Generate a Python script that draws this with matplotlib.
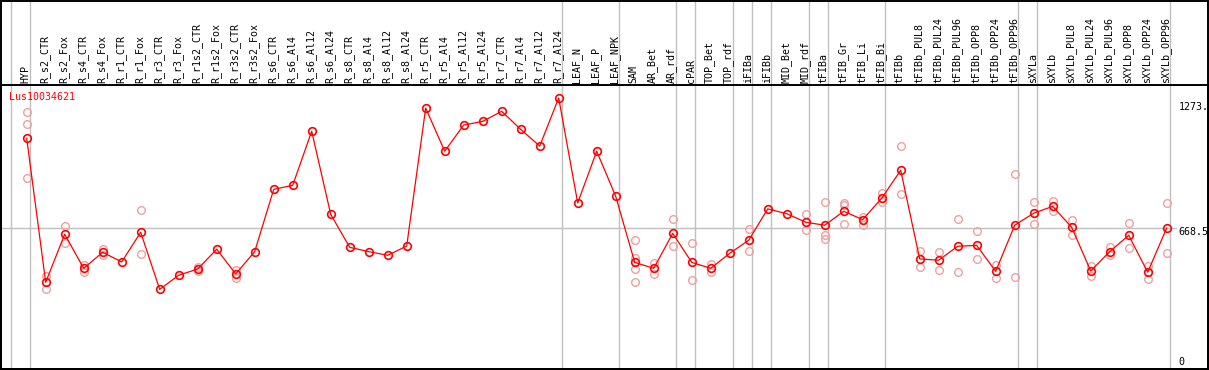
import matplotlib
matplotlib.use("Agg")
import matplotlib.pyplot as plt
from matplotlib import transforms
from matplotlib.patches import Rectangle

labels = ["HYP", "R_s2_CTR", "R_s2_Fox", "R_s4_CTR", "R_s4_Fox", "R_r1_CTR", "R_r1_Fox",
          "R_r3_CTR", "R_r3_Fox", "R_r1s2_CTR", "R_r1s2_Fox", "R_r3s2_CTR", "R_r3s2_Fox",
          "R_s6_CTR", "R_s6_Al4", "R_s6_Al12", "R_s6_Al24", "R_s8_CTR", "R_s8_Al4",
          "R_s8_Al12", "R_s8_Al24", "R_r5_CTR", "R_r5_Al4", "R_r5_Al12", "R_r5_Al24",
          "R_r7_CTR", "R_r7_Al4", "R_r7_Al12", "R_r7_Al24", "LEAF_N", "LEAF_P", "LEAF_NPK",
          "SAM", "AR_Bet", "AR_rdf", "cPAR", "TOP_Bet", "TOP_rdf", "iFIBa", "iFIBb",
          "MID_Bet", "MID_rdf", "tFIBa", "tFIB_Gr", "tFIB_Li", "tFIB_Bi", "tFIBb",
          "tFIBb_PUL8", "tFIBb_PUL24", "tFIBb_PUL96", "tFIBb_OPP8", "tFIBb_OPP24",
          "tFIBb_OPP96", "sXYLa", "sXYLb", "sXYLb_PUL8", "sXYLb_PUL24", "sXYLb_PUL96",
          "sXYLb_OPP8", "sXYLb_OPP24", "sXYLb_OPP96"]

means = [1085, 414, 638, 479, 554, 509, 647, 381, 447, 476, 568, 453, 557,
         847, 866, 1118, 731, 577, 557, 540, 583, 1226, 1025, 1147, 1164,
         1211, 1127, 1049, 1273, 784, 1025, 815, 507, 479, 642, 507, 479, 549,
         610, 756, 734, 694, 680, 745, 706, 806, 936, 523, 517, 582, 586, 465,
         680, 736, 768, 670, 467, 557, 633, 461, 667]

replicates = [[1209, 1150, 902], [443, 384], [676, 597], [496, 462], [569, 540], [],
              [750, 545], [], [], [487, 467], [], [473, 435], [],
              [], [], [], [], [], [], [], [], [], [], [], [], [], [], [], [], [], [], [],
              [610, 526, 477, 414], [504, 454], [708, 582], [596, 423], [499, 462], [],
              [661, 558], [], [], [731, 656], [787, 633, 614], [784, 774, 684],
              [720, 682], [830, 787], [1049, 826], [560, 485], [557, 470], [708, 462],
              [652, 521], [495, 433], [917, 437], [787, 684], [793, 745], [703, 633],
              [490, 442], [577, 543], [689, 572], [490, 431], [782, 549]]

# last column of each group (-1 = line before the first column)
group_ends = [-1, 0, 28, 31, 34, 35, 37, 38, 39, 41, 42, 45, 52, 53, 60]

gene = "Lus10034621"
y_max, y_mid, y_min = 1273, 668.5, 0

W, H = 1209, 370
fig = plt.figure(figsize=(W / 100, H / 100), dpi=100)
plt.rcParams["font.family"] = ["DejaVu Sans Mono"]
fs = 7.2

# plot region in pixels: x 1..1207.5, y 85..369 (from top)
ax = fig.add_axes([1 / W, (H - 369) / H, 1206.5 / W, 284 / H])
# column i sits at px 26.7 + 19 i
ax.set_xlim((1 - 26.7) / 19, (1207.5 - 26.7) / 19)
scale = (y_max - y_mid) / (227.7 - 98)
ax.set_ylim(y_mid - (369 - 227.7) * scale, y_mid + (227.7 - 85) * scale)
ax.set_xticks([])
ax.set_yticks([])
for s in ax.spines.values():
    s.set_color("black")
    s.set_linewidth(1.4)

top_ext = 369 / 284
grey = "#c0c0c0"
for g in group_ends:
    ax.axvline(g + 0.19, ymin=0, ymax=top_ext, color=grey, lw=1.0, clip_on=False, zorder=0)
ax.axhline(y_mid, xmin=0, xmax=1175 / 1206.5, color=grey, lw=1.0, zorder=0)

x = list(range(len(labels)))
for i, reps in enumerate(replicates):
    if reps:
        ax.plot([i] * len(reps), reps, "o", ms=5.5, mfc="none", mec="#f0a0a0", mew=1.0, zorder=2)
ax.plot(x, means, "-", color="red", lw=0.9, zorder=3)
ax.plot(x, means, "o", ms=5.5, mfc="none", mec="red", mew=1.2, zorder=4)

# header labels
tr = transforms.blended_transform_factory(ax.transData, fig.transFigure)
for i, lab in enumerate(labels):
    ax.text(i - 0.05, (H - 83) / H, lab, transform=tr, rotation=90, ha="center",
            va="bottom", fontsize=fs, color="black", clip_on=False)

fig.text(9.5 / W, (H - 97) / H, gene, color="red", fontsize=fs, ha="left", va="center")
fig.text(1178.3 / W, (H - 107.3) / H, "1273.", fontsize=fs, ha="left", va="center")
fig.text(1178.3 / W, (H - 232.3) / H, str(y_mid), fontsize=fs, ha="left", va="center")
fig.text(1178.3 / W, (H - 361.7) / H, str(y_min), fontsize=fs, ha="left", va="center")

# outer frame
fig.patches.append(Rectangle((1 / W, (H - 369) / H), 1206.5 / W, 368.5 / H, fill=False,
                             ec="black", lw=1.4, transform=fig.transFigure, figure=fig))

fig.savefig("out.png", dpi=100)
